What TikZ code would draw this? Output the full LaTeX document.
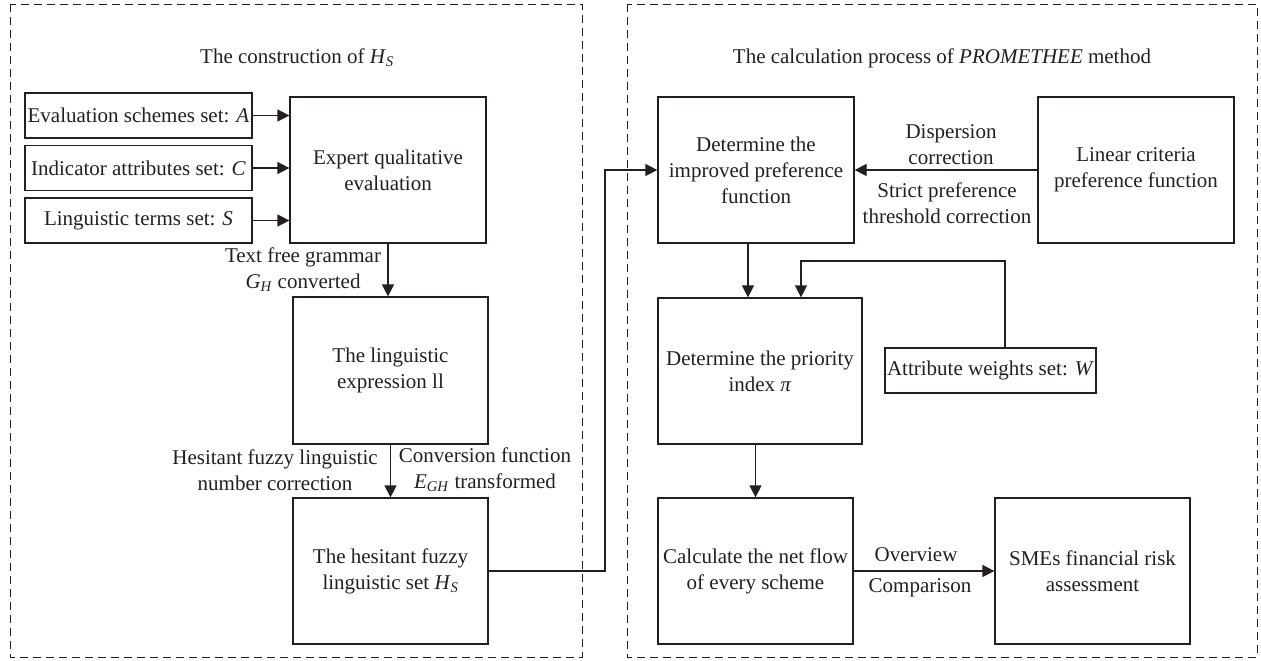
\documentclass[tikz,border=0pt]{standalone}
\usepackage{fontspec}
\setmainfont{Liberation Serif}
\usetikzlibrary{arrows.meta,calc}
\definecolor{ink}{HTML}{231F20}
\begin{document}
\begin{tikzpicture}[x=1pt,y=-1pt,
  every node/.style={text=ink,font=\fontsize{21}{26}\selectfont},
  box/.style={draw=ink,line width=1.2pt,align=center,inner sep=0pt,minimum width=196pt,minimum height=146pt},
  sbox/.style={draw=ink,line width=1.2pt,align=center,inner sep=0pt,minimum height=45pt},
  lab/.style={align=center,inner sep=0pt},
  conn/.style={draw=ink,line width=1.2pt},
  arr/.style={conn,-{Triangle[length=12pt,width=12pt]}},
  frame/.style={draw=ink,line width=0.9pt,dash pattern=on 8pt off 5pt}]
\useasboundingbox (0,0) rectangle (1261,661);
% frames
\draw[frame] (10,4) rectangle (582,657);
\draw[frame] (627,4) rectangle (1257,657);
\node[lab] (tl) at (297,58) {The construction of \textit{H}\textsubscript{\textit{S}}};
\node[lab] (tr) at (942,58) {The calculation process of \textit{PROMETHEE} method};
% left nodes
\node[sbox,minimum width=227pt] (sA) at (138.5,115.5) {Evaluation schemes set: \textit{A}};
\node[sbox,minimum width=227pt] (sC) at (138.5,168) {Indicator attributes set: \textit{C}};
\node[sbox,minimum width=227pt] (sS) at (138.5,220.5) {Linguistic terms set: \textit{S}};
\node[box] (expert) at (388,170) {Expert qualitative\\evaluation};
\node[box,minimum width=195pt,minimum height=147pt] (ling) at (390.5,370.5) {The linguistic\\expression ll};
\node[box,minimum width=195pt] (hes) at (390.5,571) {The hesitant fuzzy\\linguistic set \textit{H}\textsubscript{\textit{S}}};
% right nodes
\node[box] (det) at (756,170) {Determine the\\improved preference\\function};
\node[box] (lin) at (1136,170) {Linear criteria\\preference function};
\node[box,minimum width=204pt] (prio) at (760,371) {Determine the priority\\index \textit{π}};
\node[sbox,minimum width=211pt] (attr) at (990.5,370.5) {Attribute weights set: \textit{W}};
\node[box,minimum width=195pt] (net) at (755.5,571) {Calculate the net flow\\of every scheme};
\node[box,minimum width=195pt] (sme) at (1092.5,571) {SMEs financial risk\\assessment};
% connectors left
\draw[arr] (sA.east) -- (sA.east -| expert.west);
\draw[arr] (sC.east) -- (sC.east -| expert.west);
\draw[arr] (sS.east) -- (sS.east -| expert.west);
\draw[arr] (expert.south) -- (expert.south |- ling.north);
\draw[arr] (ling.south) -- (ling.south |- hes.north);
\coordinate (b1) at (605,571);
\draw[arr] (hes.east) -- (b1) |- (det.west);
% connectors right
\draw[arr] (lin.west) -- (det.east);
\draw[arr] ([xshift=-8pt]det.south) -- ([xshift=-8pt]det.south |- prio.north);
\coordinate (aw) at (801,261);
\draw[arr] ([xshift=14.5pt]attr.north) |- (aw) -- (aw |- prio.north);
\draw[arr] (net.north |- prio.south) -- (net.north);
\draw[arr] (net.east) -- (sme.west);
% labels
\node[lab] (l1) at (303,270) {Text free grammar\\\textit{G}\textsubscript{\textit{H}} converted};
\node[lab] (l2) at (275,470) {Hesitant fuzzy linguistic\\number correction};
\node[lab] (l3) at (485,470) {Conversion function\\\textit{E}\textsubscript{\textit{GH}} transformed};
\node[lab] (l4) at (951,145) {Dispersion\\correction};
\node[lab] (l5) at (947,203) {Strict preference\\threshold correction};
\node[lab] (l6) at (916,555) {Overview};
\node[lab] (l7) at (920,588) {Comparison};
\end{tikzpicture}
\end{document}
